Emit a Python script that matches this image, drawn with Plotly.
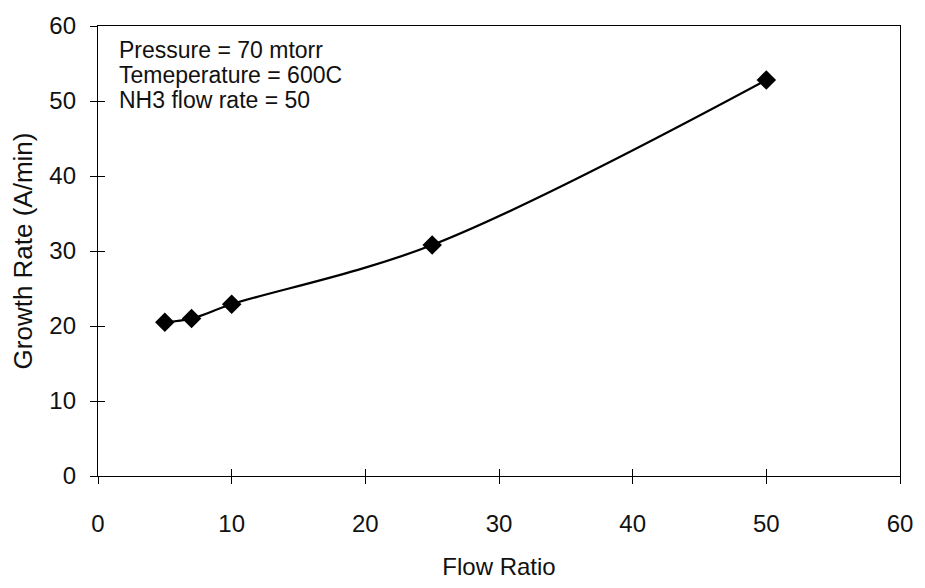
import plotly.graph_objects as go

flow_ratio = [5, 7, 10, 25, 50]
growth_rate = [20.5, 21.0, 22.9, 30.8, 52.8]
x_ticks = [0, 10, 20, 30, 40, 50, 60]
y_ticks = [0, 10, 20, 30, 40, 50, 60]
note_lines = ["Pressure = 70 mtorr", "Temeperature = 600C", "NH3 flow rate = 50"]

FONT = "Liberation Sans, Arial, sans-serif"
INK = "#111"

fig = go.Figure()
fig.add_trace(go.Scatter(
    x=flow_ratio, y=growth_rate, mode="lines+markers",
    line=dict(color="black", width=2.2, shape="spline", smoothing=1.0),
    marker=dict(symbol="diamond", size=15, color="black"),
    showlegend=False,
))
fig.add_trace(go.Scatter(x=[None], y=[None], xaxis="x2", yaxis="y2",
                         showlegend=False, hoverinfo="skip"))

axis_common = dict(
    showgrid=False, zeroline=False, showline=True, linecolor="black", linewidth=1.3,
    mirror=True, ticks="outside", ticklen=7, tickcolor="black", tickwidth=1,
    tickfont=dict(family=FONT, size=24, color=INK),
)
fig.update_layout(
    width=925, height=588,
    margin=dict(l=98, r=18, t=21, b=99),
    paper_bgcolor="white", plot_bgcolor="white",
    font=dict(family=FONT, color=INK),
    xaxis=dict(range=[0, 60], tickvals=x_ticks, ticklabelstandoff=19,
               title=dict(text="Flow Ratio", font=dict(family=FONT, size=24), standoff=22),
               **axis_common),
    yaxis=dict(range=[0, 60], tickvals=y_ticks, ticklabelstandoff=9,
               title=dict(text="Growth Rate (A/min)", font=dict(family=FONT, size=26), standoff=9),
               **axis_common),
    xaxis2=dict(overlaying="x", matches="x", range=[0, 60], tickvals=x_ticks, showticklabels=False,
                ticks="inside", ticklen=7, tickcolor="black", showgrid=False, zeroline=False, showline=False),
    yaxis2=dict(overlaying="y", matches="y", range=[0, 60], tickvals=y_ticks, showticklabels=False,
                ticks="inside", ticklen=7, tickcolor="black", showgrid=False, zeroline=False, showline=False),
)

top_y, step = 0.947, 0.056
for i, line in enumerate(note_lines):
    fig.add_annotation(
        xref="paper", yref="paper", x=0.024, y=top_y - i * step, xanchor="left", yanchor="middle",
        text=line, showarrow=False, align="left",
        font=dict(family=FONT, size=23, color=INK),
    )

fig.write_html("out.html")
